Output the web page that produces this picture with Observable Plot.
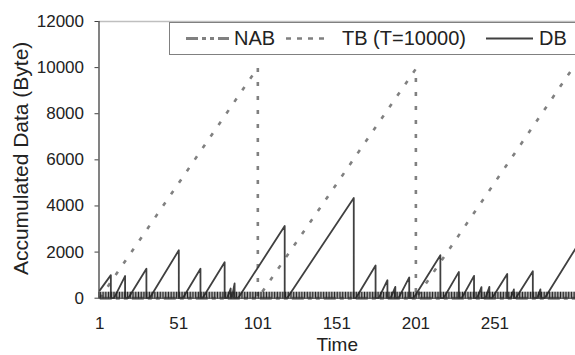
<!DOCTYPE html>
<html><head><meta charset="utf-8">
<script src="https://cdn.jsdelivr.net/npm/d3@7"></script>
<script src="https://cdn.jsdelivr.net/npm/@observablehq/plot@0.6"></script>
<style>
body{margin:0;background:#fff;font-family:"Liberation Sans",Arial,sans-serif;}
#wrap{position:relative;width:575px;height:355px;overflow:hidden;}
#legend{position:absolute;left:169px;top:22px;width:430px;height:33px;border:1px solid #808080;background:#fff;box-sizing:border-box;font-size:20px;color:#222;white-space:nowrap;}
#legend .it{position:absolute;top:0;height:31px;line-height:31px;}
#legend svg{position:absolute;top:0;}
</style></head><body><div id="wrap"></div>
<script>
// ---- data ----
const seriesNames = ["NAB", "TB (T=10000)", "DB"];
const nabT = [1, 302];
const nabV = [0, 0];
const tbT = [1, 101, 101, 201, 201, 300];
const tbV = [0, 10000, 0, 9950, 0, 9950];
const dbT = [1, 8, 8, 10, 17, 17, 19, 30.5, 30.5, 32.5, 51, 51, 53.5, 64.7, 64.7, 66, 80, 80,
  81.5, 83.8, 83.8, 84.5, 86.3, 86.3, 88.5, 118, 118, 119.5, 161.7, 161.7, 163, 175.5, 175.5,
  177.5, 183, 183, 185, 188, 188, 190, 196.8, 196.8, 199.5, 216.5, 216.5, 218.5, 228.2, 228.2,
  230, 237.8, 237.8, 239.7, 242.5, 242.5, 245, 247.5, 247.5, 249.2, 258.8, 258.8, 261, 263, 263,
  264.2, 275, 275, 277.7, 279.8, 279.8, 282.5, 302];
const dbV = [340, 1000, 0, 0, 960, 0, 0, 1280, 0, 0, 2080, 0, 0, 1280, 0, 0, 1560, 0,
  0, 420, 0, 0, 640, 0, 0, 3130, 0, 0, 4350, 0, 0, 1420, 0,
  0, 780, 0, 0, 490, 0, 0, 900, 0, 0, 1860, 0, 0, 1140, 0,
  0, 970, 0, 0, 480, 0, 0, 490, 0, 0, 1050, 0, 0, 380, 0,
  0, 1170, 0, 0, 380, 0, 0, 2150];
const xTickLabels = [1, 51, 101, 151, 201, 251];
const yTicks = [0, 2000, 4000, 6000, 8000, 10000, 12000];
const xTitle = "Time";
const yTitle = "Accumulated Data (Byte)";

// ---- build ----
const xDomain = [0.5, 302];
const yDomain = [0, 12000];
const xCategoryEdges = d3.range(xDomain[0], xDomain[1], 1);
const rows = (T, V) => T.map((t, i) => ({t, v: V[i]}));
const nabRows = rows(nabT, nabV), tbRows = rows(tbT, tbV), dbRows = rows(dbT, dbV);

const chart = Plot.plot({
  width: 575, height: 355,
  marginLeft: 98.5, marginRight: 0, marginTop: 21, marginBottom: 57.3,
  style: {fontFamily: "Liberation Sans, Arial, sans-serif", fontSize: "17px", color: "#222", background: "#fff"},
  x: {domain: xDomain},
  y: {domain: yDomain},
  marks: [
    Plot.ruleY([yDomain[1]], {stroke: "#bfbfbf", strokeWidth: 1.3}),
    Plot.line(nabRows, {x: "t", y: "v", stroke: "#808080", strokeWidth: 3, strokeLinecap: "butt", strokeDasharray: "12,4,4,4,4,4"}),
    Plot.line(tbRows, {x: "t", y: "v", stroke: "#808080", strokeWidth: 2.6, strokeLinecap: "butt", strokeDasharray: "4,10"}),
    Plot.line(dbRows, {x: "t", y: "v", stroke: "#404040", strokeWidth: 1.8}),
    Plot.axisX({ticks: xCategoryEdges, tickSize: 7, dy: -6, fill: "none", label: null, stroke: "#222"}),
    Plot.axisX({ticks: xTickLabels, tickSize: 0, tickPadding: 19, tickFormat: d => String(d), label: null, fontSize: 17, fill: "#222"}),
    Plot.axisY({ticks: yTicks, tickSize: 4, tickPadding: 11, tickFormat: d => String(d), label: null, fontSize: 17, fill: "#222", stroke: "#404040"}),
    Plot.ruleX([xDomain[0]], {stroke: "#404040", strokeWidth: 1.3}),
    Plot.ruleY([yDomain[0]], {stroke: "#404040", strokeWidth: 1}),
    Plot.text([yTitle], {frameAnchor: "left", textAnchor: "middle", lineAnchor: "middle", dx: -78, dy: -1.5, rotate: -90, fontSize: 21, fill: "#222"}),
    Plot.text([xTitle], {frameAnchor: "bottom", textAnchor: "middle", lineAnchor: "middle", dy: 47, fontSize: 19, fill: "#222"})
  ]
});
const wrap = document.getElementById("wrap");
wrap.appendChild(chart);

// ---- legend (HTML overlay) ----
const leg = document.createElement("div");
leg.id = "legend";
const legStyles = [
  {stroke: "#808080", w: 3, dash: "12,4,4,4,4,4", sx: 16, sw: 43, tx: 64},
  {stroke: "#808080", w: 2.6, dash: "5,6", sx: 116, sw: 42, tx: 172},
  {stroke: "#404040", w: 1.8, dash: null, sx: 316, sw: 47, tx: 369}
];
seriesNames.forEach((name, i) => {
  const s = legStyles[i];
  const svg = d3.create("svg").attr("width", s.sw).attr("height", 31).style("left", s.sx + "px");
  svg.append("line").attr("x1", 0).attr("x2", s.sw).attr("y1", 15.5).attr("y2", 15.5)
    .attr("stroke", s.stroke).attr("stroke-width", s.w).attr("stroke-dasharray", s.dash);
  leg.appendChild(svg.node());
  const t = document.createElement("span");
  t.className = "it"; t.style.left = s.tx + "px"; t.textContent = name;
  leg.appendChild(t);
});
wrap.appendChild(leg);
</script></body></html>
